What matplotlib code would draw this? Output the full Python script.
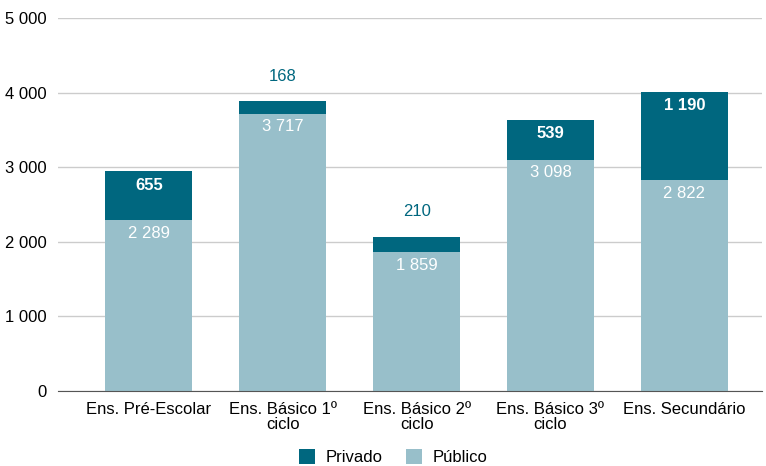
import numpy as np
import matplotlib
matplotlib.use('Agg')
import matplotlib.pyplot as plt
from matplotlib.ticker import FuncFormatter

plt.rcParams['font.family'] = ['Liberation Sans', 'DejaVu Sans']

categories = ['Ens. Pré-Escolar', 'Ens. Básico 1º\nciclo', 'Ens. Básico 2º\nciclo',
              'Ens. Básico 3º\nciclo', 'Ens. Secundário']
publico = [2289, 3717, 1859, 3098, 2822]
privado = [655, 168, 210, 539, 1190]

c_priv = '#00677f'
c_pub = '#98bfca'


def fmt(v):
    return f'{int(v):,}'.replace(',', ' ')


fig = plt.figure(figsize=(7.66, 4.66), dpi=100)
ax = fig.add_axes([0.0757, 0.161, 0.919, 0.8004])

x = np.arange(len(categories))
w = 0.65
ax.bar(x, publico, w, color=c_pub, label='Público', zorder=2)
ax.bar(x, privado, w, bottom=publico, color=c_priv, label='Privado', zorder=2)

for xi, pu, pr in zip(x, publico, privado):
    ax.annotate(fmt(pu), (xi, pu), xytext=(0, -13), textcoords='offset pixels',
                ha='center', va='center', color='white', fontsize=12, zorder=3)
    top = pu + pr
    if pr > 300:
        ax.annotate(fmt(pr), (xi, top), xytext=(0, -14), textcoords='offset pixels',
                    ha='center', va='center', color='white', fontsize=12,
                    fontweight='bold', zorder=3)
    else:
        ax.annotate(fmt(pr), (xi, top), xytext=(0, 25), textcoords='offset pixels',
                    ha='center', va='center', color=c_priv, fontsize=12, zorder=3)

ax.set_ylim(0, 5000)
ax.set_xlim(-0.68, 4.58)
ax.set_yticks(range(0, 5001, 1000))
ax.yaxis.set_major_formatter(FuncFormatter(lambda v, p: fmt(v)))
ax.set_xticks(x)
ax.set_xticklabels(categories, fontsize=12, linespacing=1.0)
ax.tick_params(axis='y', labelsize=12, length=0, pad=8)
ax.tick_params(axis='x', length=0, pad=8)
ax.grid(axis='y', color='#cccccc', linewidth=1, zorder=0)
for s in ['top', 'right', 'left']:
    ax.spines[s].set_visible(False)
ax.spines['bottom'].set_color('#555555')
ax.spines['bottom'].set_zorder(4)

h, l = ax.get_legend_handles_labels()
fig.legend(h[::-1], l[::-1], loc='lower center', bbox_to_anchor=(0.513, -0.03), ncol=2,
           frameon=False, fontsize=12, handlelength=1.0, handleheight=1.0,
           columnspacing=1.4, handletextpad=0.6)

fig.savefig('out.png', dpi=100)
